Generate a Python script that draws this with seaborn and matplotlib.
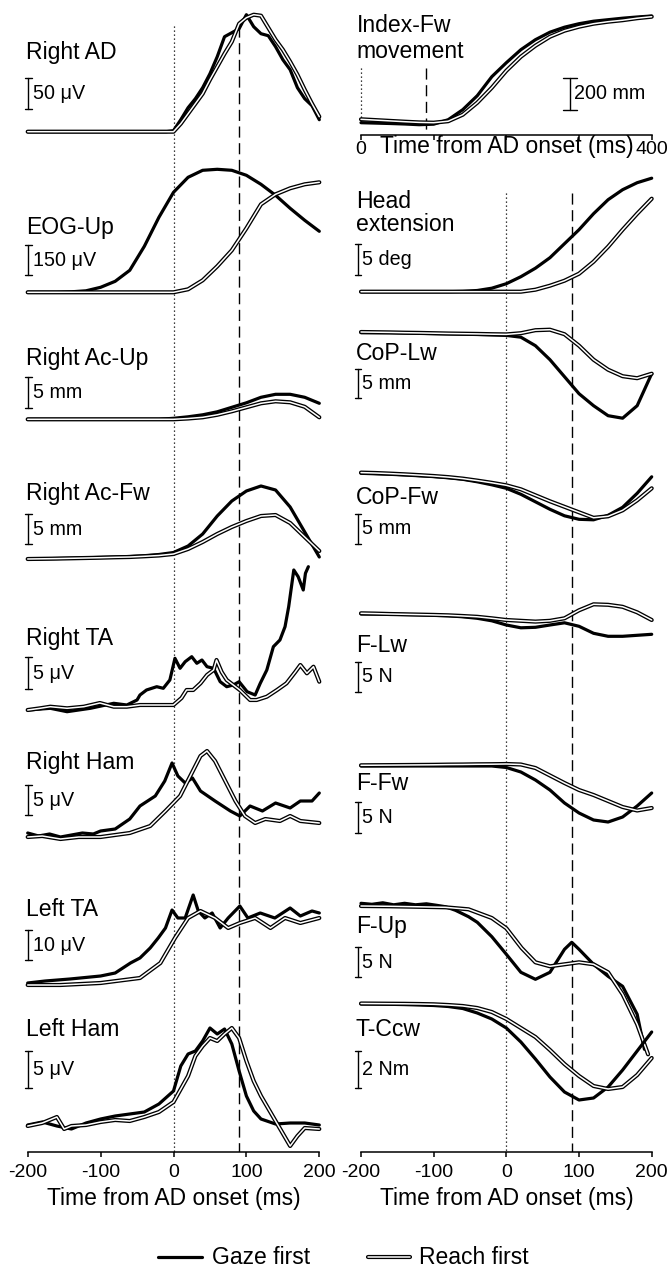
import numpy as np
import matplotlib
matplotlib.use("Agg")
import matplotlib.pyplot as plt
from matplotlib.lines import Line2D
import seaborn as sns

sns.set_theme(style="white")
plt.rcParams['font.family'] = ['Liberation Sans', 'DejaVu Sans']
plt.rcParams['text.color'] = 'black'
plt.rcParams['xtick.color'] = 'black'
plt.rcParams['axes.labelcolor'] = 'black'
plt.rcParams['axes.unicode_minus'] = False

# tempos (ms a partir do inicio do AD)
t10 = np.arange(-200, 201, 10)
t20 = np.arange(-200, 201, 20)
t_idx = np.arange(0, 401, 20)

# ---- dados (amplitude em unidades de desenho, acima da linha de base) ----
# coluna esquerda
ad_gaze = [0, 0, 0, 0, 0, 0, 0, 0, 0, 0, 0, 0, 0, 0, 0, 0, 0, 0, 0, 0,
           1, 12, 24, 33, 44, 58, 75, 95, 99, 103, 117, 105, 98, 96, 85, 72, 62, 44, 33, 26, 12]
ad_reach = [0, 0, 0, 0, 0, 0, 0, 0, 0, 0, 0, 0, 0, 0, 0, 0, 0, 0, 0, 0,
            0, 8, 18, 28, 38, 52, 65, 78, 90, 108, 114, 117, 116, 104, 92, 82, 70, 57, 42, 28, 15]

eog_gaze = [0, 0, 0, 0.5, 1.5, 5, 11, 22, 46, 75, 100, 115, 122, 123, 122, 117, 108, 97, 84, 72, 61]
eog_reach = [0, 0, 0, 0, 0, 0, 0, 0, 0, 0, 0, 3, 12, 26, 42, 64, 88, 98, 104, 108, 110]

acup_gaze = [0, 0, 0, 0, 0, 0, 0, 0, 0, 0, 1, 2.5, 4.5, 7.5, 12, 16.5, 22, 25, 25, 22, 16]
acup_reach = [0, 0, 0, 0, 0, 0, 0, 0, 0, 0, 0, 0.8, 2, 4.5, 8, 12, 16, 18, 17, 12.5, 2]

acfw_gaze = [0, 0.2, 0.5, 0.8, 1.2, 1.6, 2, 2.5, 3.3, 4.5, 6.5, 13, 25, 43, 58, 68, 73, 69, 52, 27, 2]
acfw_reach = [0, 0.2, 0.4, 0.7, 1, 1.3, 1.7, 2, 2.7, 3.5, 5, 10, 17, 25, 32, 38, 43, 44, 36, 22, 8]

rta_gaze_t = [-200, -169, -146, -114, -82, -64, -50, -46, -37, -23, -14, -5, 2, 9, 16, 25, 32, 39, 46,
              55, 64, 73, 82, 90, 101, 112, 119, 128, 137, 146, 153, 158, 165, 171, 178, 181, 185]
rta_gaze = [0, 1.7, -1.7, 1.7, 6.7, 5, 10, 15, 20, 23.3, 21.7, 30, 51.7, 41.7, 48.3, 53.3, 46.7, 50, 43.3,
            41.7, 28.3, 23.3, 25, 28.3, 18.3, 15, 26.7, 40, 63.3, 70, 83.3, 103.3, 140, 133.3, 120, 136.7, 143.3]
rta_reach_t = [-200, -183, -169, -146, -123, -101, -82, -64, -46, -23, 0, 11, 18, 27, 37, 46, 55, 59, 66,
               73, 82, 91, 105, 114, 128, 142, 155, 167, 174, 183, 192, 200]
rta_reach = [0, 1.7, 3.3, 1.7, 3.3, 7, 3.3, 3.3, 5, 5, 5, 12, 20, 20, 26.7, 35, 40, 50, 38,
             30, 25, 20, 10, 10, 13.3, 20, 26.7, 38, 45, 36.7, 43.3, 28.3]

rham_gaze_t = [-200, -185, -170, -155, -140, -125, -110, -100, -80, -60, -46, -25, -12, -2, 6, 16, 26,
               37, 57, 78, 91, 105, 122, 140, 160, 174, 190, 200]
rham_gaze = [4, 1, 3, 0, 2, 4, 3, 6, 8, 18, 31, 41, 56, 74, 61, 54, 59, 46, 36, 26, 21, 31, 26, 34, 29, 36, 36, 44]
rham_reach_t = [-200, -180, -155, -130, -100, -60, -32, -11, 9, 23, 37, 46, 57, 71, 85, 98, 112, 126,
                146, 160, 174, 200]
rham_reach = [0, 1, -2, 0, 0, 4, 11, 26, 41, 61, 81, 86, 76, 56, 36, 21, 14, 18, 16, 21, 16, 14]

lta_gaze_t = [-200, -176, -142, -100, -80, -59, -46, -32, -21, -11, -2, 6, 16, 27, 34, 43, 53, 64, 75,
              91, 102, 119, 139, 160, 174, 190, 200]
lta_gaze = [0, 2, 4, 7, 10, 20, 25, 35, 45, 55, 73, 65, 65, 88, 72, 65, 70, 55, 65,
            77, 65, 70, 65, 75, 67, 72, 70]
lta_reach_t = [-200, -155, -100, -46, -18, 2, 20, 37, 57, 75, 91, 112, 133, 153, 174, 200]
lta_reach = [-2, -2, 0, 5, 20, 45, 65, 72, 65, 55, 60, 65, 55, 65, 60, 65]

lham_gaze_t = [-200, -180, -160, -140, -120, -100, -80, -60, -40, -20, 0, 10, 20, 30, 40, 50, 60, 70, 80,
               90, 100, 110, 120, 140, 160, 180, 200]
lham_gaze = [1, 4, 0, -3, 3, 7, 10, 12, 14, 22, 35, 60, 72, 75, 85, 98, 92, 97, 82, 55, 30, 15, 7, 2, 3, 3, 1]
lham_reach_t = [-200, -180, -160, -150, -140, -120, -100, -80, -60, -40, -20, 0, 20, 30, 40, 50, 60, 70, 80,
                90, 100, 110, 120, 140, 160, 170, 180, 200]
lham_reach = [0, 3, 9, -3, 0, 1, 4, 6, 5, 9, 14, 24, 50, 70, 80, 88, 85, 92, 98, 88, 65, 45, 30, 5, -20, -10, -2, -3]

# coluna direita
idx_gaze = [0, -0.4, -0.8, -1.3, -2, -1.5, 3, 13, 27, 46, 60, 73, 83, 90.5, 95.5, 99, 101.5, 103, 104.5, 105.7, 106.7]
idx_reach = [3.4, 2.6, 1.8, 1, 0.3, 0, 1.5, 8, 20, 35, 52, 66, 77, 86, 92, 96, 99, 101, 102.5, 104.5, 106]

head_gaze = [0, 0, 0, 0, 0, 0, 0, 0.3, 1.2, 3.5, 8, 15, 23.5, 34, 48, 62, 78, 92, 102, 109, 113.5]
head_reach = [0, 0, 0, 0, 0, 0, 0, 0, 0, 0, 0, 0, 2, 6, 11, 18, 30, 45, 62, 78, 93]

coplw_gaze = [0, 0, 0, -0.3, -0.6, -0.9, -1.2, -1.5, -1.8, -2.2, -2.7, -4.5, -13, -27, -44, -61, -73, -83, -85.5, -73, -41]
coplw_reach = [0.7, 0.5, 0.3, 0, -0.2, -0.5, -0.8, -1, -1.2, -1.5, -1.7, -0.5, 2.5, 3, -1.5, -13, -27, -37, -43.5, -45.5, -41]

copfw_gaze = [0, -0.5, -1, -1.7, -2.5, -3.3, -4.5, -6, -8.5, -11.5, -15, -21, -28.5, -36, -42.5, -46, -46.5, -42, -34, -20, -3.5]
copfw_reach = [0.7, 0.3, -0.3, -1, -1.8, -2.7, -3.8, -5.3, -7.3, -9.5, -12, -16, -22, -28, -33.5, -39, -44.5, -43, -37, -27, -15]

flw_gaze = [-0.7, -0.8, -1, -1.2, -1.5, -2, -2.5, -3.5, -5, -7.5, -11.7, -14.5, -14, -11.7, -9.5, -13, -20, -23, -23, -22, -21]
flw_reach = [0, -0.3, -0.7, -1, -1.3, -1.6, -2, -2.7, -3.5, -5, -6.7, -7.5, -8.3, -7.5, -5, 3, 9, 8.5, 6.5, 1, -6.7]

ffw_gaze = [0, 0, 0, 0, 0, 0, 0, 0, 0, 0, -1.5, -6, -14, -24, -37, -47, -54, -56, -51, -40, -27]
ffw_reach = [0.7, 0.8, 0.9, 1, 1.1, 1.2, 1.4, 1.5, 1.7, 1.8, 2, 1.5, -2, -9.5, -17, -24, -29, -35, -41, -44.5, -42]

fup_gaze_t = [-200, -185, -170, -155, -140, -125, -110, -96, -84, -70, -52, -40, -20, 0, 20, 40, 60, 80,
              90, 100, 120, 140, 160, 180, 190]
fup_gaze = [1, 0, 1.5, -0.5, 1, -0.5, 0.5, -1, -2.4, -6, -12.4, -18, -32.4, -50, -68, -75, -68, -45,
            -38, -45, -60, -72, -82, -110, -145]
fup_reach_t = [-200, -160, -120, -84, -52, -20, 0, 21, 40, 60, 80, 100, 120, 140, 160, 180, 195]
fup_reach = [-1.7, -2, -2.5, -3, -5, -13.7, -24, -43.7, -58, -62, -60, -58, -60, -68, -90, -120, -150]

tccw_gaze = [0, -0.1, -0.3, -0.6, -1, -1.5, -2.5, -4.5, -9, -15, -24, -38, -55, -73, -88, -96, -94, -83, -66, -47, -28]
tccw_reach = [0.5, 0.4, 0.3, 0.2, 0, -0.3, -1, -2, -4, -8, -15, -24, -33, -46, -60, -72, -82, -85, -83, -71, -54]

labels_left = ['Right AD', 'EOG-Up', 'Right Ac-Up', 'Right Ac-Fw', 'Right TA', 'Right Ham', 'Left TA', 'Left Ham']
scales_left = ['50 μV', '150 μV', '5 mm', '5 mm', '5 μV', '5 μV', '10 μV', '5 μV']
labels_right = ['Head\nextension', 'CoP-Lw', 'CoP-Fw', 'F-Lw', 'F-Fw', 'F-Up', 'T-Ccw']
scales_right = ['5 deg', '5 mm', '5 mm', '5 N', '5 N', '5 N', '2 Nm']

# ---- layout (pixels da figura, a partir do topo) ----
W, H = 670, 1269
AXIS_Y = 1151.7
# (linha de base, y do rotulo, topo e fundo da barra de escala)
lay_left = [(131.7, 52, 78, 109), (292.3, 227, 245, 275), (419.3, 358, 377, 408), (559, 493, 514, 544),
            (710, 638, 657, 689), (837, 762, 785, 815), (983, 909, 930, 960), (1126, 1030, 1051, 1088)]
lay_right = [(291.7, 213, 244, 275), (332.7, 353, 369, 398), (473.3, 497, 514, 544), (613.3, 645, 662, 692),
             (766, 783, 802, 833), (904.3, 927, 947, 977), (1004, 1030, 1051, 1088)]

GAZE_LW = 2.3


def draw(ax, t, v, base, reach=False):
    y = base - np.asarray(v, dtype=float)
    if reach:
        sns.lineplot(x=t, y=y, ax=ax, color='black', lw=3.0, clip_on=False,
                     solid_capstyle='round', solid_joinstyle='round')
        sns.lineplot(x=t, y=y, ax=ax, color='white', lw=1.1, clip_on=False,
                     solid_capstyle='round', solid_joinstyle='round')
    else:
        sns.lineplot(x=t, y=y, ax=ax, color='black', lw=GAZE_LW, clip_on=False,
                     solid_joinstyle='round')


def scalebar(ax, x, top, bot, text, cap=4.5):
    ax.plot([x, x], [top, bot], color='black', lw=1.0, clip_on=False)
    ax.plot([x - cap, x + cap], [top, top], color='black', lw=1.0, clip_on=False)
    ax.plot([x - cap, x + cap], [bot, bot], color='black', lw=1.0, clip_on=False)
    ax.text(x + 6, (top + bot) / 2, text, fontsize=14.2, ha='left', va='center')


def style_axis(ax):
    for s in ['top', 'right', 'left']:
        ax.spines[s].set_visible(False)
    ax.spines['bottom'].set_color('black')
    ax.spines['bottom'].set_linewidth(1.1)
    ax.set_yticks([])
    ax.grid(False)
    ax.set_facecolor('none')
    ax.tick_params(axis='x', direction='out', length=3.5, width=1.1, color='black',
                   bottom=True, labelsize=14, pad=5)


fig = plt.figure(figsize=(W / 100, H / 100), dpi=100)

# ---- coluna esquerda ----
x0L, x1L = 27.7, 319.3
axL = fig.add_axes([x0L / W, (H - AXIS_Y) / H, (x1L - x0L) / W, AXIS_Y / H])
axL.set_xlim(-200, 200)
axL.set_ylim(AXIS_Y, 0)
style_axis(axL)
axL.set_xticks([-200, -100, 0, 100, 200])
axL.set_xlabel('Time from AD onset (ms)', fontsize=16.5, labelpad=5)

left_data = [(t10, ad_gaze, t10, ad_reach), (t20, eog_gaze, t20, eog_reach),
             (t20, acup_gaze, t20, acup_reach), (t20, acfw_gaze, t20, acfw_reach),
             (rta_gaze_t, rta_gaze, rta_reach_t, rta_reach), (rham_gaze_t, rham_gaze, rham_reach_t, rham_reach),
             (lta_gaze_t, lta_gaze, lta_reach_t, lta_reach), (lham_gaze_t, lham_gaze, lham_reach_t, lham_reach)]

axL.plot([0, 0], [26, AXIS_Y], color='black', lw=0.9, ls=(0, (1, 2.2)))
axL.plot([90, 90], [26, AXIS_Y], color='black', lw=1.0, ls=(0, (8, 4)))
for (tg, vg, tr, vr), (base, ly, btop, bbot), lab, sc in zip(left_data, lay_left, labels_left, scales_left):
    draw(axL, tg, vg, base)
    draw(axL, tr, vr, base, reach=True)
    axL.text(-202, ly, lab, fontsize=16.6, ha='left', va='center')
    scalebar(axL, -199, btop, bbot, sc)

# ---- coluna direita, painel de baixo ----
x0R, x1R = 361, 651.7
topR = 150
axR = fig.add_axes([x0R / W, (H - AXIS_Y) / H, (x1R - x0R) / W, (AXIS_Y - topR) / H])
axR.set_xlim(-200, 200)
axR.set_ylim(AXIS_Y, topR)
style_axis(axR)
axR.set_xticks([-200, -100, 0, 100, 200])
axR.set_xlabel('Time from AD onset (ms)', fontsize=16.5, labelpad=5)

right_data = [(t20, head_gaze, t20, head_reach), (t20, coplw_gaze, t20, coplw_reach),
              (t20, copfw_gaze, t20, copfw_reach), (t20, flw_gaze, t20, flw_reach),
              (t20, ffw_gaze, t20, ffw_reach), (fup_gaze_t, fup_gaze, fup_reach_t, fup_reach),
              (t20, tccw_gaze, t20, tccw_reach)]

axR.plot([0, 0], [193, AXIS_Y], color='black', lw=0.9, ls=(0, (1, 2.2)))
axR.plot([90, 90], [193, AXIS_Y], color='black', lw=1.0, ls=(0, (8, 4)))
for (tg, vg, tr, vr), (base, ly, btop, bbot), lab, sc in zip(right_data, lay_right, labels_right, scales_right):
    draw(axR, tg, vg, base)
    draw(axR, tr, vr, base, reach=True)
    axR.text(-207, ly, lab, fontsize=16.6, ha='left', va='center', linespacing=1.05)
    scalebar(axR, -204, btop, bbot, sc)

# ---- coluna direita, painel do indice ----
topI = 135
axI = fig.add_axes([x0R / W, (H - topI) / H, (x1R - x0R) / W, topI / H])
axI.set_xlim(0, 400)
axI.set_ylim(topI, 0)
style_axis(axI)
axI.set_xticks([0, 100, 200, 300, 400])
axI.set_xticklabels(['0', '', '', '', '400'])
axI.tick_params(axis='x', pad=1)
axI.text(200, 146, 'Time from AD onset (ms)', fontsize=16.5, ha='center', va='center')
axI.plot([0, 0], [68, 123], color='black', lw=0.9, ls=(0, (1, 2.2)), clip_on=False)
axI.plot([90, 90], [68, 132], color='black', lw=1.0, ls=(0, (8, 4)))
draw(axI, t_idx, idx_gaze, 122.7)
draw(axI, t_idx, idx_reach, 122.7, reach=True)
axI.text(-6, 25, 'Index-Fw', fontsize=16.6, ha='left', va='center')
axI.text(-6, 51.7, 'movement', fontsize=16.6, ha='left', va='center')
scalebar(axI, 287.6, 77.7, 110, '200 mm', cap=9)

# ---- legenda ----
yl = 1 - 1257 / H
fig.add_artist(Line2D([158 / W, 202 / W], [yl, yl], color='black', lw=GAZE_LW))
fig.text(212 / W, yl, 'Gaze first', fontsize=16.5, va='center', ha='left')
fig.add_artist(Line2D([368 / W, 410 / W], [yl, yl], color='black', lw=3.0, solid_capstyle='round'))
fig.add_artist(Line2D([368 / W, 410 / W], [yl, yl], color='white', lw=1.1, solid_capstyle='round'))
fig.text(419 / W, yl, 'Reach first', fontsize=16.5, va='center', ha='left')

fig.savefig('out.png', dpi=100, facecolor='white')
